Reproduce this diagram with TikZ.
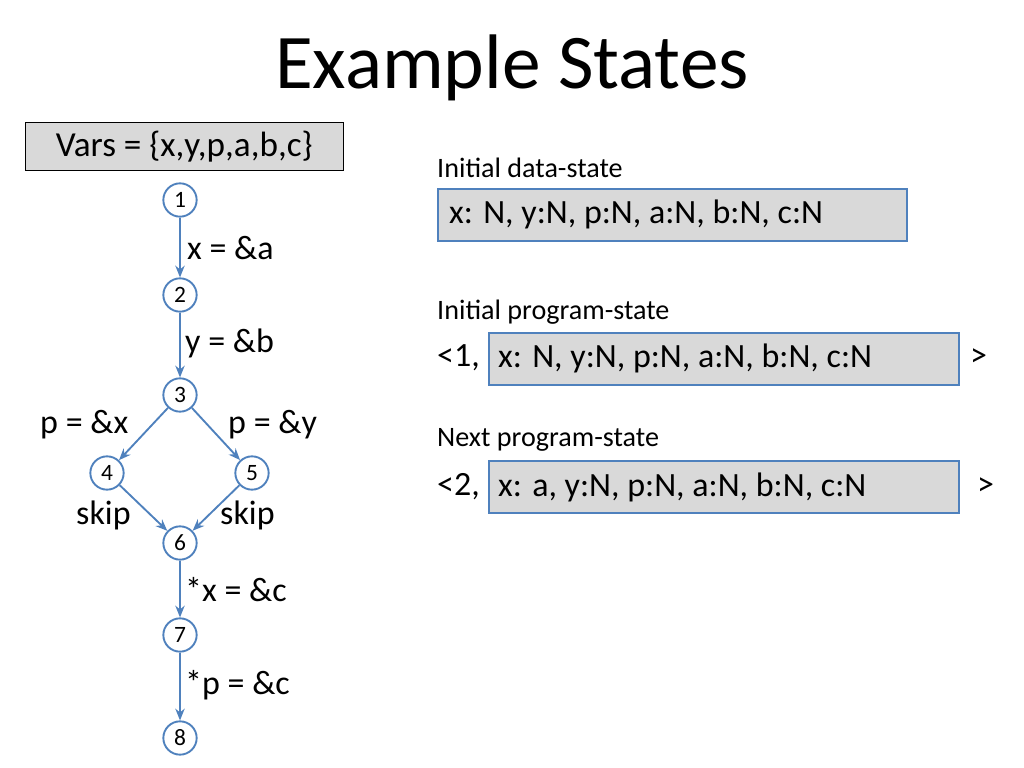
\documentclass[tikz,border=0pt]{standalone}
\usepackage{fontspec}
\setmainfont{Carlito}
\usetikzlibrary{arrows.meta,positioning}
\definecolor{cfgblue}{HTML}{4F81BD}
\definecolor{boxgray}{HTML}{D9D9D9}
\begin{document}
\begin{tikzpicture}[x=0.03cm,y=-0.03cm,
    vertex/.style={circle,draw=cfgblue,line width=1.6pt,fill=white,minimum size=1.0cm,inner sep=0pt,font=\fontsize{20}{20}\selectfont},
    edge/.style={-{Stealth[length=10pt,width=8pt]},cfgblue,line width=1.6pt},
    lbl/.style={font=\fontsize{29}{30}\selectfont,anchor=west,inner sep=0pt},
    small/.style={font=\fontsize{24}{26}\selectfont,anchor=west,inner sep=0pt},
    statebox/.style={draw=cfgblue,line width=1.6pt,fill=boxgray,anchor=north west,minimum height=1.56cm,inner sep=0pt}]
  \useasboundingbox (0,0) rectangle (1024,768);

  % title
  \node[font=\fontsize{66}{70}\selectfont] (title) at (512,68) {Example States};

  % variables
  \node[draw,fill=boxgray,anchor=north west,minimum width=9.54cm,minimum height=1.44cm,inner sep=0pt,font=\fontsize{30}{32}\selectfont] (vars) at (25,122) {Vars = \{x,y,p,a,b,c\}};

  % control-flow graph
  \node[vertex] (n1) at (180,200) {1};
  \node[vertex] (n2) at (180,295) {2};
  \node[vertex] (n3) at (180,395) {3};
  \node[vertex] (n4) at (107,473) {4};
  \node[vertex] (n5) at (252,473) {5};
  \node[vertex] (n6) at (180,543) {6};
  \node[vertex] (n7) at (180,635) {7};
  \node[vertex] (n8) at (180,738) {8};
  \draw[edge] (n1) -- (n2);
  \draw[edge] (n2) -- (n3);
  \draw[edge] (n3) -- (n4);
  \draw[edge] (n3) -- (n5);
  \draw[edge] (n4) -- (n6);
  \draw[edge] (n5) -- (n6);
  \draw[edge] (n6) -- (n7);
  \draw[edge] (n7) -- (n8);

  % edge labels
  \node[lbl] (e12) at (187,248) {x = \&a};
  \node[lbl] (e23) at (185,343) {y = \&b};
  \node[lbl] (e34) at (40,425) {p = \&x};
  \node[lbl] (e35) at (228,425) {p = \&y};
  \node[lbl] (e46) at (76,515) {skip};
  \node[lbl] (e56) at (220,515) {skip};
  \node[lbl] (e67) at (185,590) {*x = \&c};
  \node[lbl] (e78) at (185,685) {*p = \&c};

  % states
  \node[small] (hdata) at (437,168) {Initial data-state};
  \node[statebox,minimum width=14.07cm] (data) at (437,188) {};
  \node[lbl] at (449,214) {x: N, y:N, p:N, a:N, b:N, c:N};

  \node[small] (hprog) at (437,312) {Initial program-state};
  \node[lbl] (o1) at (437,358) {<1,};
  \node[statebox,minimum width=14.1cm] (prog) at (488,332) {};
  \node[lbl] at (498,358) {x: N, y:N, p:N, a:N, b:N, c:N};
  \node[lbl] (c1) at (970,358) {>};

  \node[small] (hnext) at (437,440) {Next program-state};
  \node[lbl] (o2) at (437,487) {<2,};
  \node[statebox,minimum width=14.1cm] (next) at (488,460) {};
  \node[lbl] at (498,487) {x: a, y:N, p:N, a:N, b:N, c:N};
  \node[lbl] (c2) at (977,487) {>};
\end{tikzpicture}
\end{document}
